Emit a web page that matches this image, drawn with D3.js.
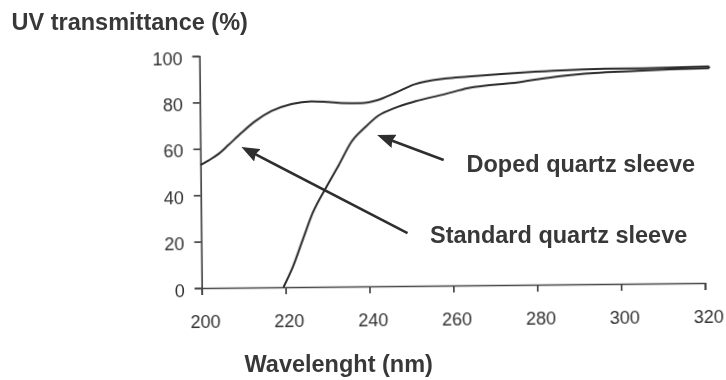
<!DOCTYPE html>
<html>
<head>
<meta charset="utf-8">
<script src="https://cdn.jsdelivr.net/npm/d3@7"></script>
<style>
  html, body { margin: 0; padding: 0; background: #fff; }
  svg { display: block; }
</style>
</head>
<body>
<svg id="chart" width="726" height="380"></svg>
<script>
// UV transmittance of two quartz sleeve materials versus wavelength

const wavelengthTicks = [200, 220, 240, 260, 280, 300, 320];
const transmittanceTicks = [0, 20, 40, 60, 80, 100];

// Standard quartz sleeve
const standardWavelength = [200, 202, 204.4, 206.7, 209.9, 213.1, 217.1, 221.8, 226.6, 230.6, 234, 238.5, 242.5, 246.5, 251.3, 258.4, 264, 272, 280, 294, 304, 312, 321.5];
const standardTransmittance = [53, 55, 57.8, 61.5, 66.8, 71.6, 76.0, 78.9, 80.0, 79.6, 79.1, 79.0, 80.3, 83.2, 86.9, 89.2, 90.0, 91.0, 91.8, 92.7, 92.8, 93.0, 93.3];

// Doped quartz sleeve
const dopedWavelength = [219.5, 221.8, 224.2, 226.6, 229.8, 233, 236.1, 239.3, 242.5, 246.5, 251.3, 258.4, 264, 276, 286, 294, 304, 312, 321.5];
const dopedTransmittance = [0, 8.8, 20.3, 31.7, 42.5, 52.5, 62.5, 68.5, 73.5, 76.8, 79.5, 82.5, 85.0, 87.3, 89.8, 91.0, 91.7, 92.2, 92.6];

const seriesLabels = ["Doped quartz sleeve", "Standard quartz sleeve"];
const axisTitles = { y: "UV transmittance (%)", x: "Wavelenght (nm)" };

// ---- layout ----
const W = 726, H = 380;
const plot = { left: 201.7, right: 705, top: 56, bottom: 288 };
const tilt = -0.57; // the printed figure sits slightly askew

const FONT = "'Liberation Sans', Arial, Helvetica, sans-serif";
const INK = "#383838";

const svg = d3.select("#chart");

const defs = svg.append("defs");
defs.append("filter").attr("id", "soft")
  .append("feGaussianBlur").attr("stdDeviation", 0.45);

defs.append("marker")
  .attr("id", "head")
  .attr("viewBox", "0 0 18 14")
  .attr("refX", 9).attr("refY", 7)
  .attr("markerWidth", 18).attr("markerHeight", 14)
  .attr("markerUnits", "userSpaceOnUse")
  .attr("orient", "auto")
  .append("path")
  .attr("d", "M0,0 L18,7 L0,14 L2,7 Z")
  .attr("fill", "#2e2e2e");

const x = d3.scaleLinear().domain([200, 320]).range([plot.left, plot.right]);
const y = d3.scaleLinear().domain([0, 100]).range([plot.bottom, plot.top]);

const g = svg.append("g")
  .attr("transform", `rotate(${tilt}, ${plot.left}, ${plot.bottom})`);

const body = g.append("g").attr("filter", "url(#soft)");

// axes
const xAxis = d3.axisBottom(x).tickValues(wavelengthTicks).tickSize(7).tickPadding(20)
  .tickFormat(d3.format("d"));
const yAxis = d3.axisLeft(y).tickValues(transmittanceTicks).tickSize(7).tickPadding(10)
  .tickFormat(d3.format("d"));

const gx = body.append("g").attr("transform", `translate(0,${plot.bottom})`).call(xAxis);
const gy = body.append("g").attr("transform", `translate(${plot.left},0)`).call(yAxis);

[gx, gy].forEach(a => {
  a.select(".domain").attr("stroke", "#474747").attr("stroke-width", 1.7);
  a.selectAll(".tick line").attr("stroke", "#474747").attr("stroke-width", 1.7);
  a.selectAll(".tick text")
    .attr("fill", "#303030")
    .style("font-family", FONT)
    .style("font-size", "18px");
});
gx.selectAll(".tick text").attr("dx", 3);
gy.selectAll(".tick text").attr("dy", "0.45em");

// curves
const line = d3.line()
  .x(d => x(d[0]))
  .y(d => y(d[1]))
  .curve(d3.curveMonotoneX);

const standard = d3.zip(standardWavelength, standardTransmittance);
const doped = d3.zip(dopedWavelength, dopedTransmittance);

[standard, doped].forEach(s => {
  body.append("path")
    .datum(s)
    .attr("d", line)
    .attr("fill", "none")
    .attr("stroke", "#2b2b2b")
    .attr("stroke-width", 2)
    .attr("stroke-linejoin", "round");
});

// the two traces meet in a short closing stroke at the long-wavelength end
const endS = standard[standard.length - 1], endD = doped[doped.length - 1];
body.append("line")
  .attr("x1", x(endS[0])).attr("y1", y(endS[1]))
  .attr("x2", x(endD[0])).attr("y2", y(endD[1]))
  .attr("stroke", "#2b2b2b").attr("stroke-width", 2);

// pointer arrows, tail → tip in data units
const pointers = [
  { tail: [258, 54.1], tip: [242.2, 65.2] },
  { tail: [249.2, 22.8], tip: [209.8, 60.6] }
];
pointers.forEach(p => {
  const x1 = x(p.tail[0]), y1 = y(p.tail[1]);
  const x2 = x(p.tip[0]), y2 = y(p.tip[1]);
  const len = Math.hypot(x2 - x1, y2 - y1);
  const ux = (x2 - x1) / len, uy = (y2 - y1) / len;
  g.append("line")
    .attr("x1", x1).attr("y1", y1)
    .attr("x2", x2 - ux * 9).attr("y2", y2 - uy * 9)
    .attr("stroke", "#2e2e2e")
    .attr("stroke-width", 2.6)
    .attr("marker-end", "url(#head)");
});

// text
const label = (txt, tx, ty) => svg.append("text")
  .attr("x", tx).attr("y", ty)
  .attr("fill", INK)
  .style("font-family", FONT)
  .style("font-weight", "bold")
  .style("font-size", "23.5px")
  .text(txt);

label(axisTitles.y, 11.5, 29.5);
label(axisTitles.x, 244.5, 372);
label(seriesLabels[0], 466.5, 171.5);
label(seriesLabels[1], 430, 242.5);
</script>
</body>
</html>
